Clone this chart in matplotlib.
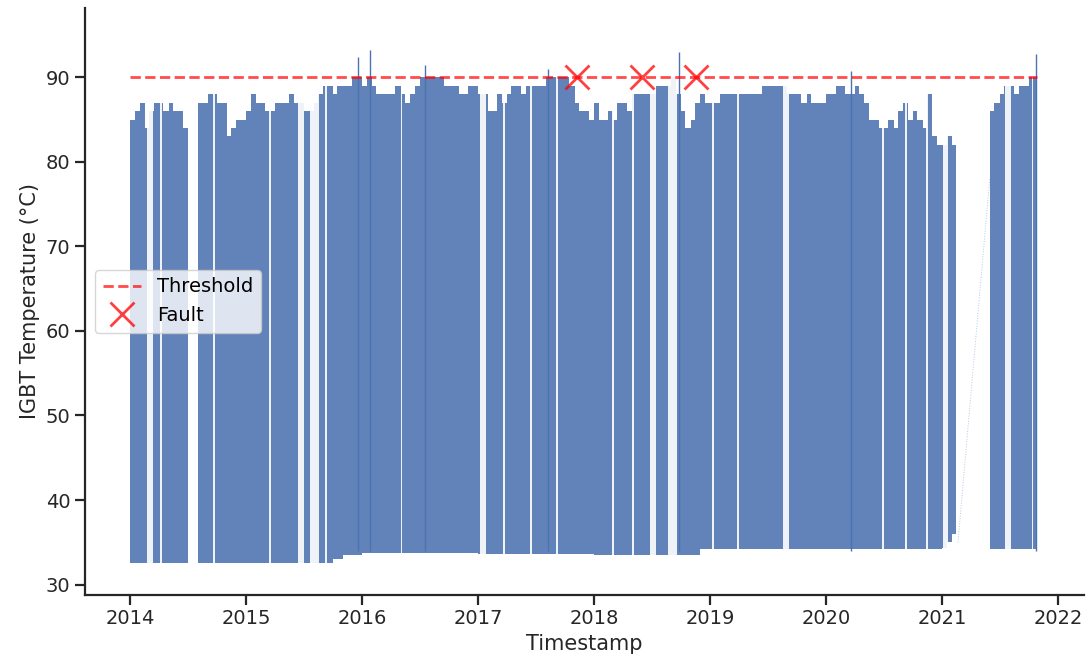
import numpy as np
import pandas as pd
import matplotlib
matplotlib.use('Agg')
import matplotlib.pyplot as plt

nan = np.nan

# envelope of the IGBT temperature trace, read per half month (1st / 15th)
# max values
high_2014 = [85, 86, 87, 84, 86, 87, 87, 86, 87, 86, 86, 84, 84, nan, 87, 87, 88, 88, 87, 87, 83, 84, 85, 85]
high_2015 = [86, 88, 87, 87, 86, 86, 87, 87, 87, 88, 87, 87, 86, 86, 87, 88, 89, 89, 88, 89, 89, 89, 90, 90]
high_2016 = [89, 90, 89, 88, 88, 88, 88, 89, 88, 87, 88, 89, 90, 90, 90, 90, 90, 89, 89, 89, 88, 88, 89, 89]
high_2017 = [88, 88, 86, 86, 88, 87, 88, 89, 89, 88, 89, 89, 89, 89, 90, 90, 90, 90, 90, 89, 87, 86, 86, 85]
high_2018 = [87, 85, 85, 86, 85, 87, 87, 86, 88, 88, 88, 88, 88, 89, 89, 89, 90, 88, 86, 84, 85, 87, 88, 87]
high_2019 = [87, 87, 88, 88, 88, 88, 88, 88, 88, 88, 88, 89, 89, 89, 89, 89, 88, 88, 88, 87, 88, 87, 87, 87]
high_2020 = [88, 88, 89, 89, 88, 88, 89, 88, 87, 85, 85, 84, 84, 85, 84, 86, 87, 85, 86, 85, 84, 88, 83, 82]
high_2021 = [82, 83, 82, 82, nan, nan, nan, nan, nan, nan, 86, 87, 88, 89, 89, 88, 89, 89, 90, 90]

# min values
low_2014 = [32.5] * 24
low_2015 = [32.5] * 18 + [33.0, 33.0, 33.5, 33.5, 33.5, 33.5]
low_2016 = [33.7] * 24
low_2017 = [33.6] * 24
low_2018 = [33.5] * 22 + [34.2, 34.2]
low_2019 = [34.2] * 24
low_2020 = [34.2] * 24
low_2021 = [34.3, 35.0, 36.0, 36.0, nan, nan, nan, nan, nan, nan, 34.2, 34.2, 34.2, 34.2, 34.2, 34.2, 34.2, 34.2, 34.2, 34.2]

data_start = '2014-01-01'
data_end = '2021-10-28'

# short stretches with no readings (white slivers in the trace)
missing_start = ['2014-02-23', '2014-04-04', '2014-09-18', '2015-03-13', '2015-06-13', '2015-07-21',
                 '2015-09-05', '2016-05-01', '2017-01-07', '2017-03-19', '2017-06-12', '2017-09-02',
                 '2018-02-25', '2018-05-01', '2018-06-26', '2018-08-21', '2019-01-06', '2019-03-28',
                 '2019-08-20', '2020-06-25', '2020-09-05', '2020-11-10', '2021-01-05', '2021-07-17',
                 '2021-10-10']
missing_end = ['2014-03-14', '2014-04-10', '2014-09-24', '2015-03-19', '2015-07-02', '2015-08-18',
               '2015-09-11', '2016-05-07', '2017-01-26', '2017-03-25', '2017-06-18', '2017-09-08',
               '2018-03-03', '2018-05-07', '2018-07-14', '2018-09-19', '2019-01-12', '2019-04-03',
               '2019-09-06', '2020-07-01', '2020-09-11', '2020-11-16', '2021-01-20', '2021-08-05',
               '2021-10-15']

# isolated peaks above the envelope
spike_dates = ['2015-12-20', '2016-01-26', '2016-07-16', '2017-08-08', '2018-09-24', '2020-03-20', '2021-10-23']
spike_vals = [92.4, 93.2, 91.5, 91.0, 93.0, 90.7, 92.8]

# thin line drawn across the 2021 data gap
bridge_dates = ['2021-02-20', '2021-05-31']
bridge_vals = [35, 78]

threshold = 90
fault_dates = ['2017-11-07', '2018-05-31', '2018-11-17']
fault_vals = [90, 90, 90]

high = high_2014 + high_2015 + high_2016 + high_2017 + high_2018 + high_2019 + high_2020 + high_2021
low = low_2014 + low_2015 + low_2016 + low_2017 + low_2018 + low_2019 + low_2020 + low_2021
t = list(pd.date_range(data_start, periods=len(high), freq='SMS'))
# close the last step at the end of the record
t.append(pd.Timestamp(data_end))
high.append(high[-1])
low.append(low[-1])

blue = '#4c72b0'
ink = '#262626'

plt.rcParams['font.family'] = 'DejaVu Sans'
fig = plt.figure(figsize=(10.9, 6.63), dpi=100)
ax = fig.add_axes([0.078, 0.103, 0.9165, 0.885])

ax.fill_between(t, low, high, step='post', color=blue, alpha=0.88, lw=0, zorder=1)
for s, e in zip(missing_start, missing_end):
    ax.axvspan(pd.Timestamp(s), pd.Timestamp(e), color='white', alpha=0.9, lw=0, zorder=1.2)
ax.vlines(pd.to_datetime(spike_dates), 34, spike_vals, color=blue, lw=1.0, zorder=1.5)
ax.plot(pd.to_datetime(bridge_dates), bridge_vals, color=blue, lw=0.7, alpha=0.4, ls=':')

ax.plot([pd.Timestamp(data_start), pd.Timestamp(data_end)], [threshold, threshold],
        ls='--', color='red', alpha=0.7, lw=2, label='Threshold', zorder=3)
ax.plot(pd.to_datetime(fault_dates), fault_vals, 'x', color='red', alpha=0.75,
        ms=17, mew=2, label='Fault', zorder=4)

ax.set_xlim(pd.Timestamp('2013-08-11'), pd.Timestamp('2022-03-24'))
ax.set_ylim(28.8, 98.2)
ax.set_yticks([30, 40, 50, 60, 70, 80, 90])
ax.set_xlabel('Timestamp', fontsize=15, color=ink)
ax.set_ylabel('IGBT Temperature (°C)', fontsize=15, color=ink)

for side in ['top', 'right']:
    ax.spines[side].set_visible(False)
for side in ['left', 'bottom']:
    ax.spines[side].set_linewidth(1.6)
    ax.spines[side].set_color(ink)
ax.tick_params(labelsize=14, length=7, width=1.6, colors=ink)

ax.legend(loc='center left', fontsize=14, framealpha=0.8)

fig.savefig('out.png', dpi=100)
